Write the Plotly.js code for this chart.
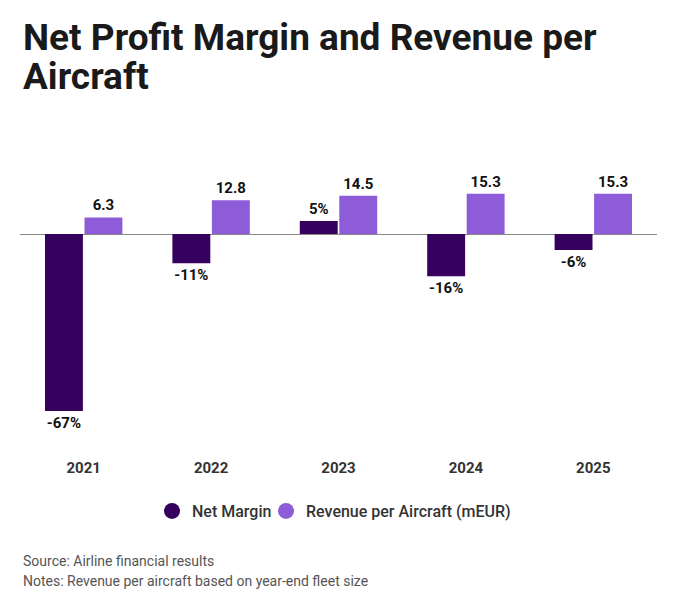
<!DOCTYPE html>
<html>
<head>
<meta charset="utf-8">
<script src="https://cdn.plot.ly/plotly-3.0.1.min.js"></script>
<style>
  html, body { margin: 0; padding: 0; background: #fff; }
  #chart { width: 677px; height: 601px; }
</style>
</head>
<body>
<div id="chart"></div>
<script>
var years = ['2021', '2022', '2023', '2024', '2025'];
var netMargin = [-67, -11, 5, -16, -6];
var revenuePerAircraft = [6.3, 12.8, 14.5, 15.3, 15.3];
var titleLines = ['Net Profit Margin and Revenue per', 'Aircraft'];

var darkPurple = '#36005f';
var lightPurple = '#8e5cd8';

var labelFont = { family: 'Roboto, sans-serif', size: 15, color: '#111', weight: 700 };

var marginBars = {
  type: 'bar', x: years, y: netMargin, name: 'Net Margin',
  marker: { color: darkPurple },
  text: netMargin.map(v => v + '%'), texttemplate: '%{text}',
  textposition: 'outside', cliponaxis: false,
  textfont: labelFont, showlegend: false, hoverinfo: 'none'
};

var revenueBars = {
  type: 'bar', x: years, y: revenuePerAircraft, name: 'Revenue per Aircraft (mEUR)',
  marker: { color: lightPurple },
  texttemplate: '%{y:.1f}', textposition: 'outside', cliponaxis: false,
  textfont: labelFont, showlegend: false, hoverinfo: 'none'
};

// circle markers for the legend only, one legend box each so the spacing is tight
var legendMargin = {
  type: 'scatter', mode: 'markers', x: [null], y: [null], name: 'Net Margin',
  marker: { color: darkPurple, size: 16, symbol: 'circle' }, legend: 'legend'
};
var legendRevenue = {
  type: 'scatter', mode: 'markers', x: [null], y: [null], name: 'Revenue per Aircraft (mEUR)',
  marker: { color: lightPurple, size: 16, symbol: 'circle' }, legend: 'legend2'
};

var titleFont = { family: 'Roboto, sans-serif', size: 37, color: '#1a1a1a', weight: 700 };
var noteFont = { family: 'Roboto, sans-serif', size: 14, color: '#555' };
var legendFont = { family: 'Roboto, sans-serif', size: 16, color: '#333', weight: 500 };

function paperText(text, yshift, font) {
  return { text: text, xref: 'paper', yref: 'paper', x: 0, y: 1, xanchor: 'left', yanchor: 'middle',
    showarrow: false, xshift: 1, yshift: yshift, font: font };
}

function legendAt(px) {
  return { orientation: 'h', x: (px - 20) / 637, xanchor: 'left', y: -56 / 275, yanchor: 'middle',
    bgcolor: 'rgba(0,0,0,0)', font: legendFont, itemclick: false, itemdoubleclick: false };
}

// plot area top sits at 180px, bottom at 455px
var layout = {
  width: 677, height: 601,
  paper_bgcolor: '#fff', plot_bgcolor: '#fff',
  margin: { l: 20, r: 20, t: 180, b: 146 },
  font: { family: 'Roboto, sans-serif', color: '#333' },
  barmode: 'group', bargap: 0.38, bargroupgap: 0.04,
  xaxis: {
    type: 'category', showgrid: false, showline: false, ticks: '',
    tickfont: { family: 'Roboto, sans-serif', size: 15, color: '#333', weight: 700 },
    ticklabelstandoff: 2, fixedrange: true
  },
  yaxis: {
    range: [-83.7, 20.5], showgrid: false, showticklabels: false,
    zeroline: true, zerolinecolor: '#888', zerolinewidth: 1, fixedrange: true
  },
  legend: legendAt(152),
  legend2: legendAt(266),
  annotations: [
    paperText(titleLines[0], 180 - 37, titleFont),
    paperText(titleLines[1], 180 - 76, titleFont),
    paperText('Source: Airline financial results', 180 - 561, noteFont),
    paperText('Notes: Revenue per aircraft based on year-end fleet size', 180 - 581, noteFont)
  ]
};

Plotly.newPlot('chart', [marginBars, revenueBars, legendMargin, legendRevenue], layout, { staticPlot: true });
</script>
</body>
</html>
